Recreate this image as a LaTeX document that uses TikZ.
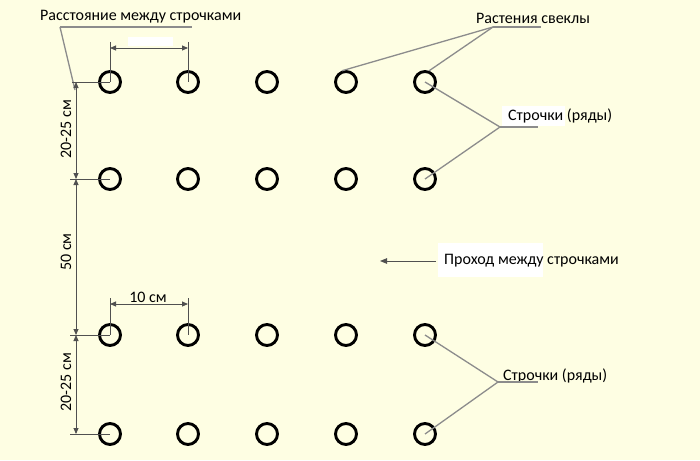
\documentclass[tikz,border=0pt]{standalone}
\usepackage{fontspec}
\setmainfont{Carlito}
\usetikzlibrary{arrows.meta}
\definecolor{bgc}{HTML}{FEFEE3}
\definecolor{leadc}{HTML}{8C8C8C}
\definecolor{dimc}{HTML}{505050}
\begin{document}
\begin{tikzpicture}[x=1pt,y=-1pt,
  plant/.style={circle,draw=black,line width=2.9pt,minimum size=21pt,inner sep=0pt},
  lead/.style={draw=leadc,line width=1.3pt},
  dimline/.style={draw=dimc,line width=0.9pt},
  dimarr/.style={dimline,{Triangle[length=6pt,width=5pt]}-{Triangle[length=6pt,width=5pt]}},
  lbl/.style={font=\fontsize{16}{18}\selectfont,inner sep=1pt,text=black}]
\fill[bgc] (0,0) rectangle (700,460);
\useasboundingbox (0,0) rectangle (700,460);
% white label patches
\fill[white] (128,37) rectangle (173,46);
\fill[white] (438,243) rectangle (543,277);
\fill[white] (502,106) rectangle (565,126);
% plants
\foreach \r/\y in {1/82,2/179,3/335,4/434}{
  \foreach \c/\x in {1/110,2/188,3/267,4/346,5/425}{
    \node[plant] (c\r\c) at (\x,\y) {};
  }
}
% labels
\node[lbl,anchor=west] (tdist) at (39,17) {Расстояние между строчками};
\node[lbl,anchor=west] (tbeet) at (475,18) {Растения свеклы};
\node[lbl,anchor=west] (trow1) at (507,116) {Строчки (ряды)};
\node[lbl,anchor=west] (tpass) at (443,261) {Проход между строчками};
\node[lbl,anchor=west] (trow2) at (502,376) {Строчки (ряды)};
\node[lbl] (t10) at (148,297) {10 см};
\node[lbl,rotate=90] (td1) at (66,129) {20-25 см};
\node[lbl,rotate=90] (td2) at (66,252) {50 см};
\node[lbl,rotate=90] (td3) at (66,382) {20-25 см};
% leader coordinates
\coordinate (u1a) at (60,27); \coordinate (u1b) at (192,27);
\coordinate (u1e) at (75,90);
\coordinate (u2a) at (493,27); \coordinate (u2b) at (541,27);
\coordinate (u3a) at (500,127); \coordinate (u3b) at (538,127);
\coordinate (u4a) at (498,382); \coordinate (u4b) at (538,382);
\coordinate (pa) at (436,261); \coordinate (pb) at (380,261);
% leaders
\draw[lead] (u1a) -- (u1b);
\draw[lead] (u1a) -- (u1e);
\draw[lead] (u2a) -- (u2b);
\draw[lead] (u2a) -- (c14.110);
\draw[lead] (u2a) -- (c15.70);
\draw[lead] (u3a) -- (u3b);
\draw[lead] (u3a) -- (c15.center);
\draw[lead] (u3a) -- (c25.center);
\draw[lead] (u4a) -- (u4b);
\draw[lead] (u4a) -- (c35.center);
\draw[lead] (u4a) -- (c45.center);
\draw[dimline,-{Triangle[length=7pt,width=5.5pt]}] (pa) -- (pb);
% dimension coordinates
\coordinate (v1) at (76,82); \coordinate (v2) at (76,179);
\coordinate (v3) at (76,335); \coordinate (v4) at (76,434);
\coordinate (h1) at (72,82); \coordinate (h2) at (70,179);
\coordinate (h3) at (70,335); \coordinate (h4) at (70,434);
\coordinate (e1) at (110,42); \coordinate (e2) at (188,42);
\coordinate (e3) at (110,298); \coordinate (e4) at (188,298);
\coordinate (a1) at (110,48); \coordinate (a2) at (188,48);
\coordinate (a3) at (110,304); \coordinate (a4) at (188,304);
% extension lines
\draw[dimline] (h1) -- (c11.center);
\draw[dimline] (h2) -- (c21.center);
\draw[dimline] (h3) -- (c31.center);
\draw[dimline] (h4) -- (c41.center);
\draw[dimline] (e1) -- (c11.center);
\draw[dimline] (e2) -- (c12.center);
\draw[dimline] (e3) -- (c31.center);
\draw[dimline] (e4) -- (c32.center);
% dimension lines
\draw[dimarr] (v1) -- (v2);
\draw[dimarr] (v2) -- (v3);
\draw[dimarr] (v3) -- (v4);
\draw[dimarr] (a1) -- (a2);
\draw[dimarr] (a3) -- (a4);
\end{tikzpicture}
\end{document}
